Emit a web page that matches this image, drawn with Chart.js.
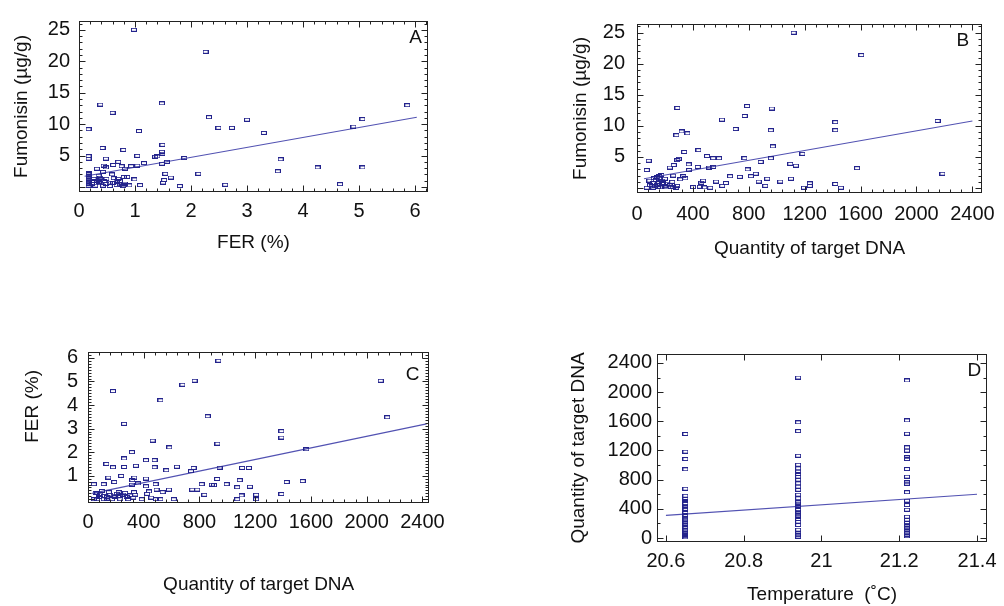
<!DOCTYPE html>
<html>
<head>
<meta charset="utf-8">
<script src="https://cdn.jsdelivr.net/npm/chart.js@4.4.1/dist/chart.umd.min.js"></script>
<style>
html,body{margin:0;padding:0;background:#fff;}
body{width:1004px;height:606px;position:relative;overflow:hidden;}
.panel{position:absolute;}
</style>
</head>
<body>
<div class="panel" style="left:0;top:0;width:450px;height:262px"><canvas id="cA"></canvas></div>
<div class="panel" style="left:560px;top:0;width:444px;height:262px"><canvas id="cB"></canvas></div>
<div class="panel" style="left:0;top:330px;width:452px;height:276px"><canvas id="cC"></canvas></div>
<div class="panel" style="left:560px;top:330px;width:444px;height:276px"><canvas id="cD"></canvas></div>
<script>
// Panel A: FER (%) vs fumonisin
const aFer = [0.98,2.26,0.38,1.48,5.86,0.6,2.32,0.17,1.07,2.49,2.73,3.0,3.3,4.9,5.06,0.42,1.49,0.79,0.17,0.17,0.48,1.04,1.36,1.4,1.48,1.49,1.88,3.6,4.26,5.06,3.55,1.16,1.48,1.57,0.7,0.44,0.61,0.76,0.93,1.04,0.32,0.48,0.82,0.43,0.17,1.54,2.13,1.64,1.52,1.5,1.8,2.61,4.66,1.09,0.9,0.59,0.35,0.38,0.49,0.7,0.8,0.86,0.99,
  0.17,0.17,0.17,0.17,0.17,0.17,0.17,0.32,0.38,0.49,0.61,0.73,0.82,0.29,0.43,0.55,0.67,0.79,0.35,0.26,0.67,0.73,0.55,0.8,0.23,0.26,0.4,0.45,0.62];
const aFum = [25.0,21.5,13.1,13.3,13.0,11.8,11.1,9.2,8.9,9.4,9.4,10.7,8.6,9.6,10.8,6.2,6.7,5.9,4.9,4.5,4.5,4.95,4.8,4.85,5.6,5.3,4.6,4.4,3.1,3.1,2.5,3.8,3.7,4.0,4.0,3.4,3.5,3.3,3.3,3.4,2.9,3.1,2.9,2.4,2.2,2.1,2.1,1.5,1.1,0.7,0.15,0.35,0.45,0.3,0.25,2.0,1.8,1.5,1.3,1.3,1.6,1.6,1.2,
  0.2,0.5,0.8,1.1,1.4,1.7,2.0,1.0,0.6,0.5,0.65,0.4,0.55,0.2,0.2,0.15,0.3,0.15,0.8,1.3,1.0,0.9,0.7,0.25,0.5,0.9,1.2,0.9,1.4];
const aFitX = [0.1, 6.03];
const aFitY = [1.7, 11.1];

// Panel B: quantity of target DNA vs fumonisin
const bDna = [1121,1605,289,788,771,965,608,706,958,319,361,282,1419,1419,2151,972,440,338,289,298,84,501,545,587,769,958,1184,885,1097,1137,1575,2186,370,435,517,545,792,263,70,373,235,666,736,815,850,871,932,1025,1102,918,1195,1237,1237,1419,1459,566,636,610,401,450,482,524,461,473,345,331,259,310,175,158,
  70,93,117,140,163,186,210,233,256,89,135,182,158,112,217,252,287,280,105,128,150,198,240,120,145,160,200];
const bFum = [25.0,21.4,12.9,13.2,11.6,12.8,11.0,9.5,9.3,9.1,8.8,8.5,10.6,9.3,10.8,6.7,6.1,5.8,4.5,4.7,4.4,5.15,4.8,4.8,4.8,4.8,5.5,4.2,3.9,3.6,3.2,2.3,3.8,3.4,3.3,3.4,3.0,3.7,2.9,2.9,3.3,1.9,1.8,1.9,2.3,1.05,1.5,1.05,1.5,0.35,0.05,0.75,0.35,0.65,0.05,1.05,0.8,0.35,0.15,0.2,0.1,0.05,0.85,1.2,1.55,1.9,2.0,1.4,2.1,1.6,
  0.05,0.45,0.05,0.5,0.1,0.8,0.1,0.45,0.15,1.2,1.3,1.2,1.0,0.8,0.7,1.0,0.35,0.05,0.25,0.3,0.2,0.3,0.2,1.6,1.7,1.9,1.5];
const bFitX = [50, 2400];
const bFitY = [1.5, 10.8];

// Panel C: quantity of target DNA vs FER (%)
const cDna = [936,2101,765,678,179,520,859,2148,259,1388,1388,1567,464,584,929,315,259,416,478,132,179,259,344,478,562,638,758,739,944,1106,1155,146,238,188,332,318,416,315,42,113,360,485,927,1089,1426,1541,816,889,904,995,1071,1162,748,784,581,492,438,416,424,536,1102,1207,1388,835,616,520,487,454,386,1071,1207,
  54,66,89,113,136,160,184,207,231,254,278,301,325,66,113,172,231,289,42,136,195,266,330,339,100,150,220,80];
const cFer = [5.88,5.03,5.03,4.86,4.59,4.2,3.52,3.48,3.2,2.89,2.62,2.12,2.49,2.2,2.36,2.0,1.73,1.66,1.66,1.5,1.36,1.37,1.42,1.36,1.23,1.38,1.33,1.19,1.34,1.33,1.33,0.92,0.99,0.73,0.92,0.81,0.88,0.62,0.64,0.64,0.67,0.64,0.86,0.81,0.73,0.77,0.64,0.62,0.6,0.64,0.51,0.53,0.41,0.41,0.41,0.41,0.33,0.55,0.23,0.3,0.16,0.19,0.22,0.19,0,0,0,0.07,0,0,0,
  0.27,0.27,0.2,0.14,0.1,0.2,0.15,0.23,0.12,0.2,0.1,0.16,0.07,0,0,0,0,0,0,0.03,0.1,0.27,0.3,0.2,0.35,0.3,0.3,0.1];
const cFitX = [30, 2430];
const cFitY = [0.25, 3.2];

// Panel D: temperature vs quantity of target DNA
const dTemps = [20.65, 20.94, 21.22];
const dDna1 = [1426,1184,1083,942,676,580,540,507,475,443,420,388,352,315,270,224,178,133,88,45,8,400,300,250,200,150,110,60,25];
const dDna2 = [2200,1586,1466,1128,1005,956,910,878,841,800,750,704,662,594,545,471,429,388,338,292,224,178,114,64,18,260,310,360,440,490,40];
const dDna3 = [2160,1612,1430,1243,1198,1107,1083,946,841,763,744,628,512,452,388,292,251,206,160,114,69,23,140,180,90,45];
const dFitX = [20.6, 21.4];
const dFitY = [310, 600];

// tick labels
const fumTicks = [5,10,15,20,25];
const ferTicks = [0,1,2,3,4,5,6];
const ferYTicks = [1,2,3,4,5,6];
const dnaTicks = [0,400,800,1200,1600,2000,2400];
const tempTicks = [20.6,20.8,21,21.2,21.4];

const FONT = "'Liberation Sans', Arial, sans-serif";
Chart.defaults.font.family = FONT;
Chart.defaults.color = '#111';

const pts = (xs, ys) => xs.map((x,i) => ({x, y: ys[i]}));

// small open rectangle marker
const MARK = (() => {
  const c = document.createElement('canvas'); c.width = 6; c.height = 4;
  const g = c.getContext('2d');
  g.strokeStyle = '#23238c'; g.lineWidth = 1;
  g.strokeRect(0.5, 0.5, 5, 3);
  return c;
})();

// frame, inward ticks on all sides, panel letter
const frameTicks = {
  id: 'frameTicks',
  afterDatasetsDraw(chart, args, o){
    const {ctx, chartArea: a, scales: {x, y}} = chart;
    ctx.save();
    ctx.strokeStyle = '#222'; ctx.lineWidth = 1;
    const L = Math.round(a.left)+0.5, R = Math.round(a.right)-0.5, T = Math.round(a.top)+0.5, B = Math.round(a.bottom)-0.5;
    ctx.strokeRect(L, T, R-L, B-T);
    ctx.beginPath();
    const run = (s, step, major, horiz) => {
      const start = Math.ceil(s.min/step - 1e-9)*step;
      for (let v = start; v <= s.max + 1e-9; v += step) {
        const k = v/major, len = Math.abs(k - Math.round(k)) < 1e-6 ? 6 : 3;
        const p = Math.round(s.getPixelForValue(v)) + 0.5;
        if (horiz) { ctx.moveTo(p, B); ctx.lineTo(p, B-len); ctx.moveTo(p, T); ctx.lineTo(p, T+len); }
        else { ctx.moveTo(L, p); ctx.lineTo(L+len, p); ctx.moveTo(R, p); ctx.lineTo(R-len, p); }
      }
    };
    run(x, o.xMinor, o.xMajor, true);
    run(y, o.yMinor, o.yMajor, false);
    ctx.stroke();
    ctx.fillStyle = '#111';
    ctx.font = '19px ' + FONT;
    ctx.textAlign = 'right'; ctx.textBaseline = 'middle';
    ctx.fillText(o.letter, a.right - o.lx, a.top + o.ly);
    ctx.restore();
  }
};

function panel(id, c){
  return new Chart(document.getElementById(id), {
    type: 'scatter',
    data: { datasets: [
      { data: c.points, pointStyle: MARK, pointRadius: 3, pointHoverRadius: 3, borderColor: '#23238c', backgroundColor: 'transparent' },
      { data: c.fit, showLine: true, borderColor: '#5252b2', borderWidth: 1.1, pointRadius: 0, pointHoverRadius: 0 }
    ]},
    options: {
      responsive: true, maintainAspectRatio: false, animation: false, events: [],
      layout: { padding: c.pad },
      plugins: { legend: {display: false}, tooltip: {enabled: false}, frameTicks: c.marks },
      scales: {
        x: {
          type: 'linear', min: c.xMin, max: c.xMax,
          grid: {display: false, drawTicks: false}, border: {display: false},
          afterFit: s => { s.height = c.xH; },
          afterBuildTicks: s => { s.ticks = c.xTicks.map(v => ({value: v})); },
          ticks: { font: {size: 20}, color: '#111', padding: c.xTickPad, maxRotation: 0, autoSkip: false, callback: v => String(v) },
          title: { display: true, text: c.xTitle, font: {size: 19}, color: '#111', padding: {top: 0, bottom: c.xTitlePad} }
        },
        y: {
          type: 'linear', min: c.yMin, max: c.yMax,
          grid: {display: false, drawTicks: false}, border: {display: false},
          afterFit: s => { s.width = c.yW; },
          afterBuildTicks: s => { s.ticks = c.yTicks.map(v => ({value: v})); },
          ticks: { font: {size: 20}, color: '#111', padding: c.yTickPad, autoSkip: false, callback: v => String(v) },
          title: { display: true, text: c.yTitle, font: {size: 19}, color: '#111', padding: {top: c.yTitlePad, bottom: 0} }
        }
      }
    },
    plugins: [frameTicks]
  });
}

panel('cA', {
  points: pts(aFer, aFum), fit: pts(aFitX, aFitY),
  pad: {top: 14, right: 22, left: 0, bottom: 0},
  xMin: 0, xMax: 6.23, yMin: -0.8, yMax: 26.4,
  xTicks: ferTicks, yTicks: fumTicks,
  xH: 70, yW: 79, xTickPad: 7, yTickPad: 9, xTitlePad: 8, yTitlePad: 10,
  xTitle: 'FER (%)', yTitle: 'Fumonisin (µg/g)',
  marks: {xMinor: 0.2, xMajor: 1, yMinor: 1, yMajor: 5, letter: 'A', lx: 6, ly: 17}
});

panel('cB', {
  points: pts(bDna, bFum), fit: pts(bFitX, bFitY),
  pad: {top: 14, right: 13, left: 0, bottom: 0},
  xMin: 0, xMax: 2470, yMin: -0.8, yMax: 26.4,
  xTicks: dnaTicks, yTicks: fumTicks,
  xH: 69, yW: 77, xTickPad: 9, yTickPad: 12, xTitlePad: 2, yTitlePad: 9,
  xTitle: 'Quantity of target DNA', yTitle: 'Fumonisin (µg/g)',
  marks: {xMinor: 80, xMajor: 400, yMinor: 1, yMajor: 5, letter: 'B', lx: 13, ly: 17}
});

panel('cC', {
  points: pts(cDna, cFer), fit: pts(cFitX, cFitY),
  pad: {top: 17, right: 17, left: 0, bottom: 0},
  xMin: 0, xMax: 2450, yMin: -0.16, yMax: 6.25,
  xTicks: dnaTicks, yTicks: ferYTicks,
  xH: 103, yW: 88, xTickPad: 7, yTickPad: 10, xTitlePad: 10, yTitlePad: 21,
  xTitle: 'Quantity of target DNA', yTitle: '        FER (%)',
  marks: {xMinor: 80, xMajor: 400, yMinor: 0.125, yMajor: 1, letter: 'C', lx: 10, ly: 23}
});

panel('cD', {
  points: [].concat(
    dDna1.map(v => ({x: dTemps[0], y: v})),
    dDna2.map(v => ({x: dTemps[1], y: v})),
    dDna3.map(v => ({x: dTemps[2], y: v}))
  ),
  fit: pts(dFitX, dFitY),
  pad: {top: 24, right: 16, left: 0, bottom: 0},
  xMin: 20.577, xMax: 21.426, yMin: -55, yMax: 2523,
  xTicks: tempTicks, yTicks: dnaTicks,
  xH: 64, yW: 97, xTickPad: 7, yTickPad: 5, xTitlePad: 0, yTitlePad: 7,
  xTitle: 'Temperature  (˚C)', yTitle: 'Quantity of target DNA',
  marks: {xMinor: 0.2, xMajor: 0.2, yMinor: 200, yMajor: 400, letter: 'D', lx: 6, ly: 17}
});
</script>
</body>
</html>
